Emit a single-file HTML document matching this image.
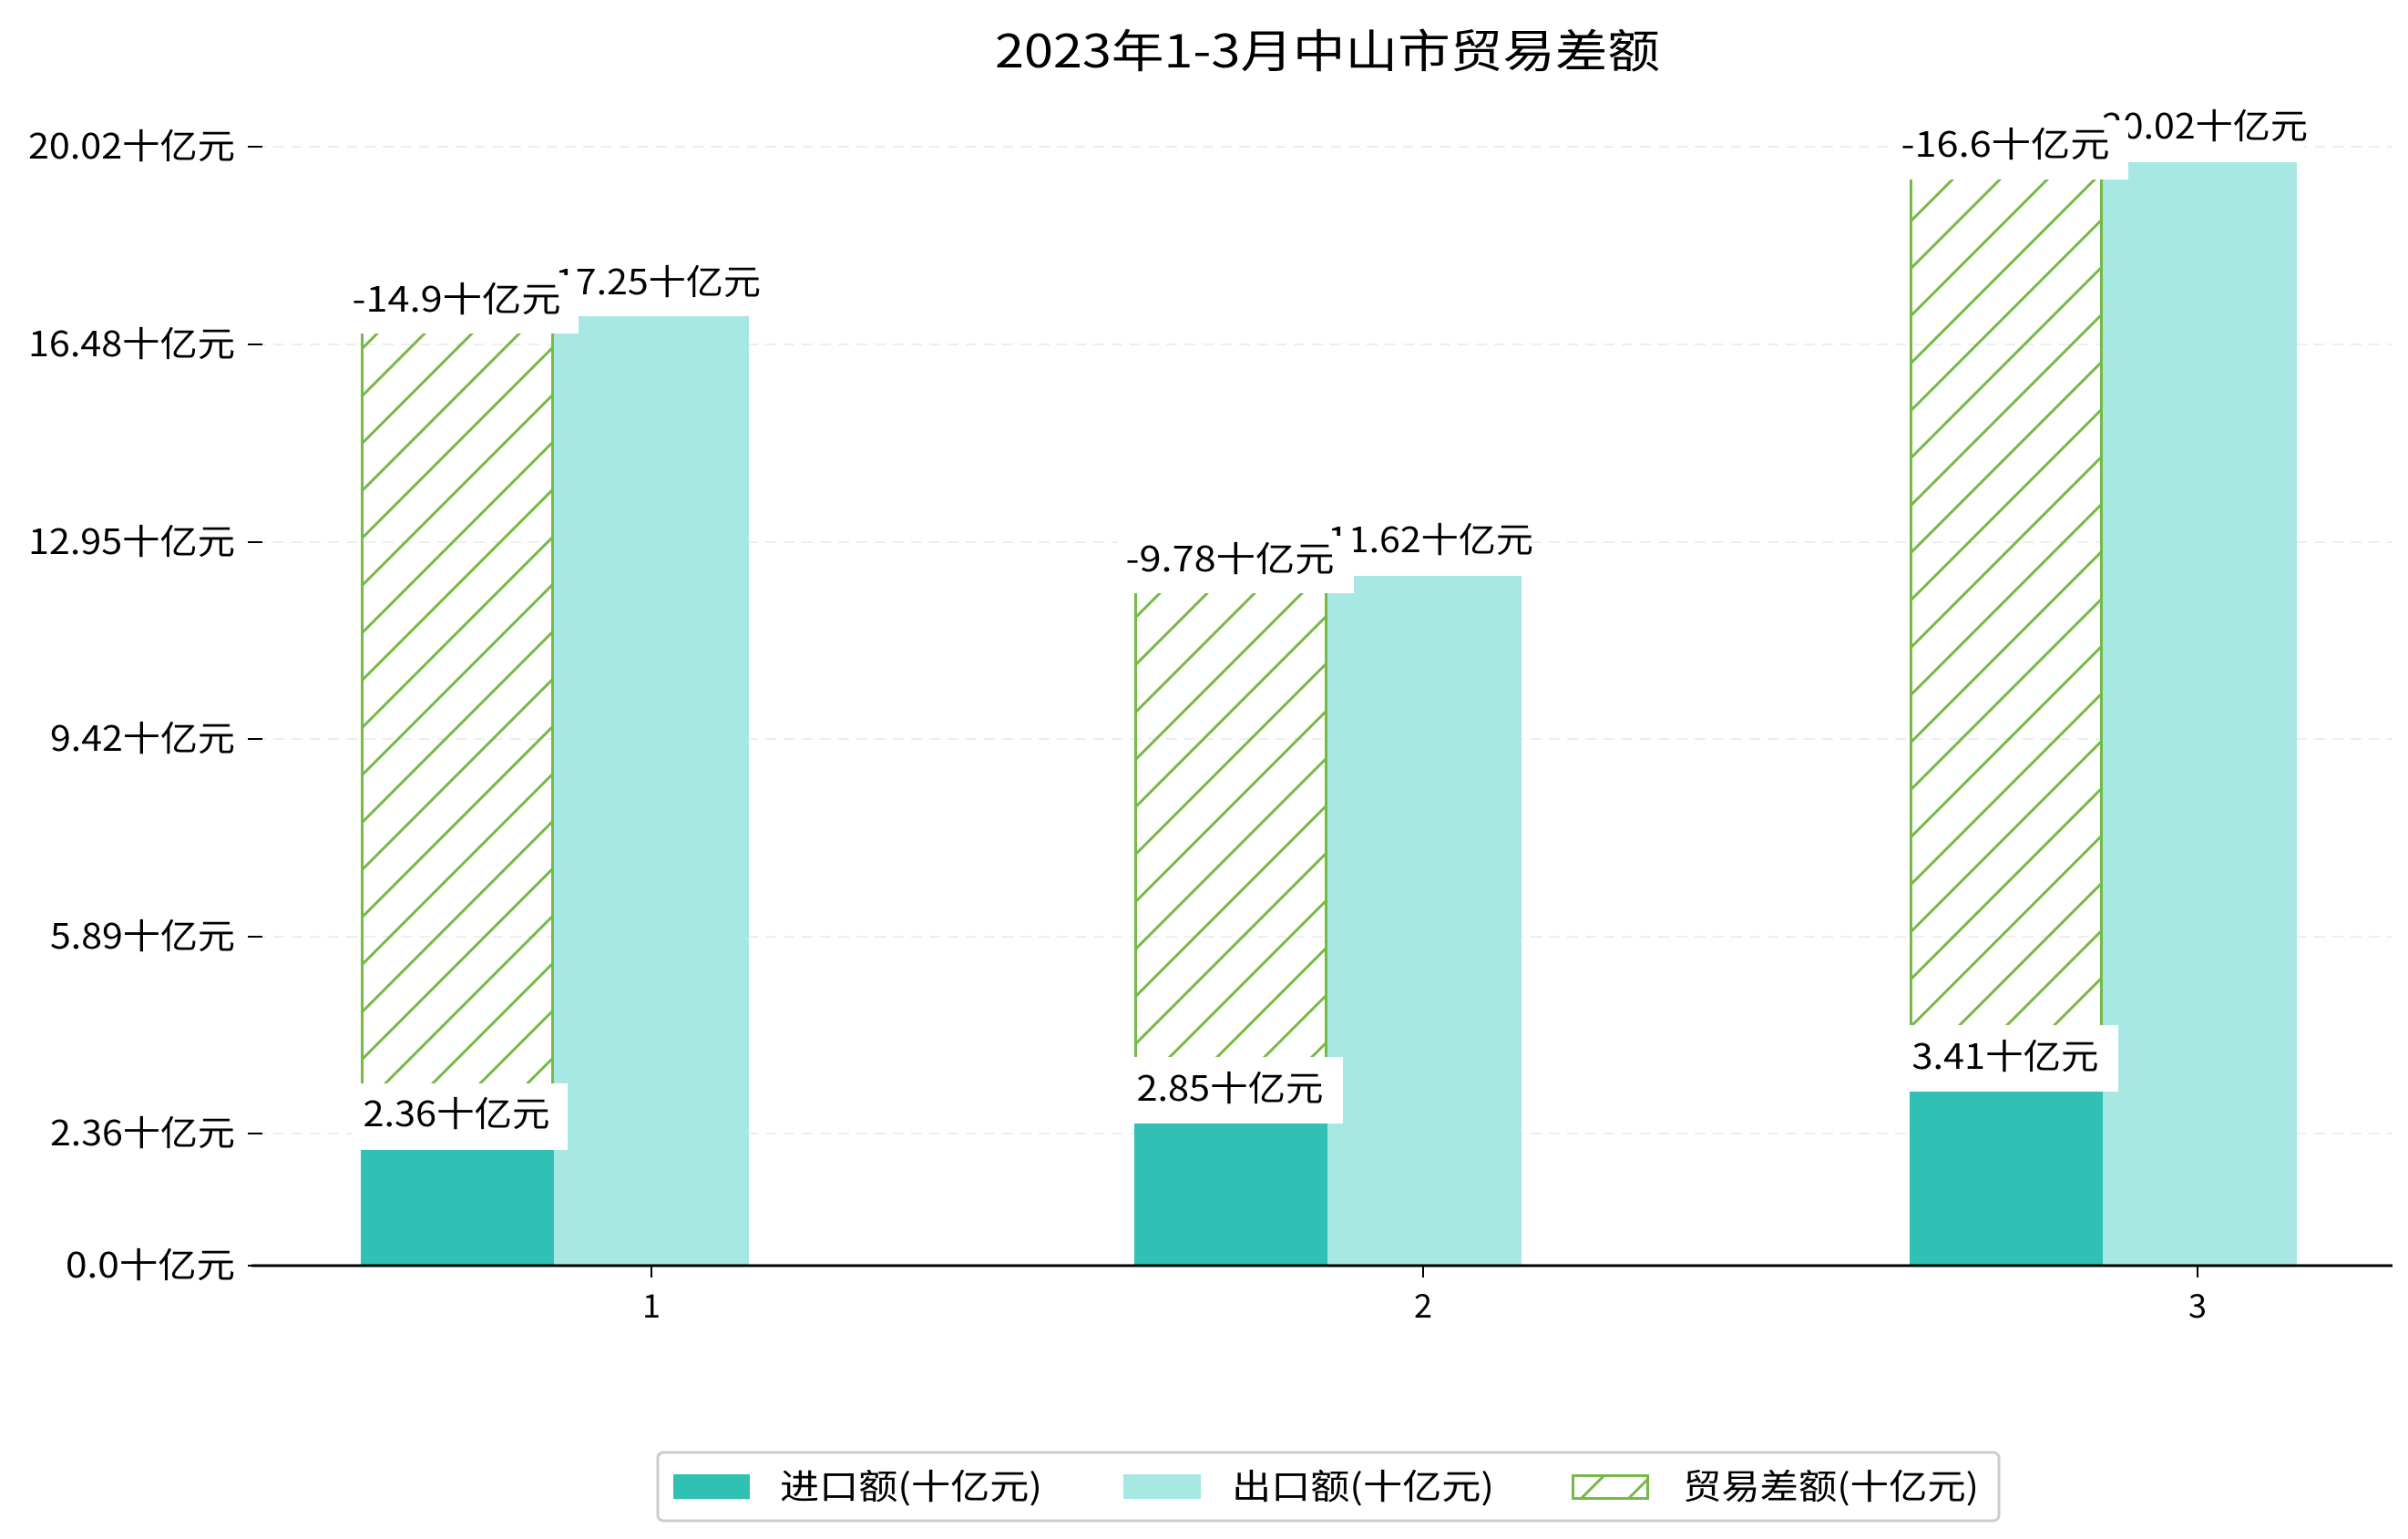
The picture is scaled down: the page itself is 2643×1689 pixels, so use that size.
<!DOCTYPE html>
<html><head><meta charset="utf-8"><style>
html,body{margin:0;padding:0;background:#fff;}
svg{display:block;}
text{font-family:"WenQuanYi Zen Hei","Noto Sans CJK SC",sans-serif;fill:#000;}
</style></head><body>
<svg width="2643" height="1689" viewBox="0 0 2643 1689" xmlns="http://www.w3.org/2000/svg">
<defs>
<pattern id="h" patternUnits="userSpaceOnUse" width="52" height="52">
<path d="M0,52 L52,0 M-13,13 L13,-13 M39,65 L65,39" stroke="#76b947" stroke-width="3"/>
</pattern>
</defs>
<text x="1457" y="74" font-size="50" text-anchor="middle" textLength="730" lengthAdjust="spacingAndGlyphs">2023年1-3月中山市贸易差额</text>
<g stroke="#eeeeee" stroke-width="2" stroke-dasharray="12,8">
<line x1="280" y1="1244" x2="2626" y2="1244"/>
<line x1="280" y1="1028" x2="2626" y2="1028"/>
<line x1="280" y1="811" x2="2626" y2="811"/>
<line x1="280" y1="595" x2="2626" y2="595"/>
<line x1="280" y1="378" x2="2626" y2="378"/>
<line x1="280" y1="161" x2="2626" y2="161"/>
</g>
<g stroke="#000" stroke-width="2">
<line x1="272" y1="1389" x2="288" y2="1389"/>
<line x1="272" y1="1244" x2="288" y2="1244"/>
<line x1="272" y1="1028" x2="288" y2="1028"/>
<line x1="272" y1="811" x2="288" y2="811"/>
<line x1="272" y1="595" x2="288" y2="595"/>
<line x1="272" y1="378" x2="288" y2="378"/>
<line x1="272" y1="161" x2="288" y2="161"/>
</g>
<g font-size="38" text-anchor="end" lengthAdjust="spacingAndGlyphs">
<text x="258" y="1402" textLength="186" lengthAdjust="spacingAndGlyphs">0.0十亿元</text>
<text x="258" y="1257" textLength="203" lengthAdjust="spacingAndGlyphs">2.36十亿元</text>
<text x="258" y="1041" textLength="203" lengthAdjust="spacingAndGlyphs">5.89十亿元</text>
<text x="258" y="824" textLength="203" lengthAdjust="spacingAndGlyphs">9.42十亿元</text>
<text x="258" y="608" textLength="227" lengthAdjust="spacingAndGlyphs">12.95十亿元</text>
<text x="258" y="391" textLength="227" lengthAdjust="spacingAndGlyphs">16.48十亿元</text>
<text x="258" y="174" textLength="227" lengthAdjust="spacingAndGlyphs">20.02十亿元</text>
</g>
<g fill="#30c0b4">
<rect x="396" y="1244" width="212" height="145"/>
<rect x="1245" y="1214" width="212" height="175"/>
<rect x="2096" y="1180" width="212" height="209"/>
</g>
<g fill="#a8e8e2">
<rect x="608" y="331" width="214" height="1058"/>
<rect x="1457" y="615" width="213" height="774"/>
<rect x="2308" y="161" width="213" height="1228"/>
</g>
<g fill="url(#h)" stroke="#76b947" stroke-width="3">
<rect x="397.5" y="330" width="209" height="914"/>
<rect x="1246.5" y="614" width="209" height="600"/>
<rect x="2097.5" y="162" width="209" height="1018"/>
</g>
<line x1="276" y1="1389" x2="2626" y2="1389" stroke="#000" stroke-width="3"/>
<g stroke="#000" stroke-width="2">
<line x1="715" y1="1389" x2="715" y2="1402"/>
<line x1="1562" y1="1389" x2="1562" y2="1402"/>
<line x1="2412" y1="1389" x2="2412" y2="1402"/>
</g>
<g font-size="36" text-anchor="middle">
<text x="715" y="1446">1</text>
<text x="1562" y="1446">2</text>
<text x="2412" y="1446">3</text>
</g>
<g font-size="38" text-anchor="middle">
<rect x="386" y="1189" width="237" height="73" fill="#fff"/>
<text x="501" y="1236" textLength="205" lengthAdjust="spacingAndGlyphs">2.36十亿元</text>
<rect x="1235" y="1160" width="239" height="73" fill="#fff"/>
<text x="1350" y="1208" textLength="205" lengthAdjust="spacingAndGlyphs">2.85十亿元</text>
<rect x="2086" y="1125" width="239" height="73" fill="#fff"/>
<text x="2201" y="1173" textLength="205" lengthAdjust="spacingAndGlyphs">3.41十亿元</text>

<rect x="600" y="285" width="232" height="62" fill="#fff"/>
<text x="722" y="323" textLength="226" lengthAdjust="spacingAndGlyphs">17.25十亿元</text>
<rect x="1450" y="568" width="228" height="64" fill="#fff"/>
<text x="1570" y="606" textLength="226" lengthAdjust="spacingAndGlyphs">11.62十亿元</text>
<rect x="2300" y="113" width="228" height="65" fill="#fff"/>
<text x="2420" y="152" textLength="226" lengthAdjust="spacingAndGlyphs">20.02十亿元</text>

<rect x="376" y="302" width="259" height="64" fill="#fff"/>
<text x="501" y="342" textLength="229" lengthAdjust="spacingAndGlyphs">-14.9十亿元</text>
<rect x="1227" y="588" width="259" height="63" fill="#fff"/>
<text x="1350" y="627" textLength="229" lengthAdjust="spacingAndGlyphs">-9.78十亿元</text>
<rect x="2074" y="132" width="262" height="65" fill="#fff"/>
<text x="2201" y="172" textLength="229" lengthAdjust="spacingAndGlyphs">-16.6十亿元</text>
</g>
<rect x="722" y="1594" width="1472" height="75" rx="6" fill="#fff" stroke="#cccccc" stroke-width="3"/>
<rect x="739" y="1618" width="84" height="27" fill="#30c0b4"/>
<rect x="1233" y="1618" width="85" height="27" fill="#a8e8e2"/>
<rect x="1726.5" y="1619.5" width="82" height="25" fill="url(#h)" stroke="#76b947" stroke-width="3"/>
<g font-size="38">
<text x="856" y="1645" textLength="288" lengthAdjust="spacingAndGlyphs">进口额(十亿元)</text>
<text x="1352" y="1645" textLength="288" lengthAdjust="spacingAndGlyphs">出口额(十亿元)</text>
<text x="1847" y="1645" textLength="325" lengthAdjust="spacingAndGlyphs">贸易差额(十亿元)</text>
</g>
</svg>
</body></html>
